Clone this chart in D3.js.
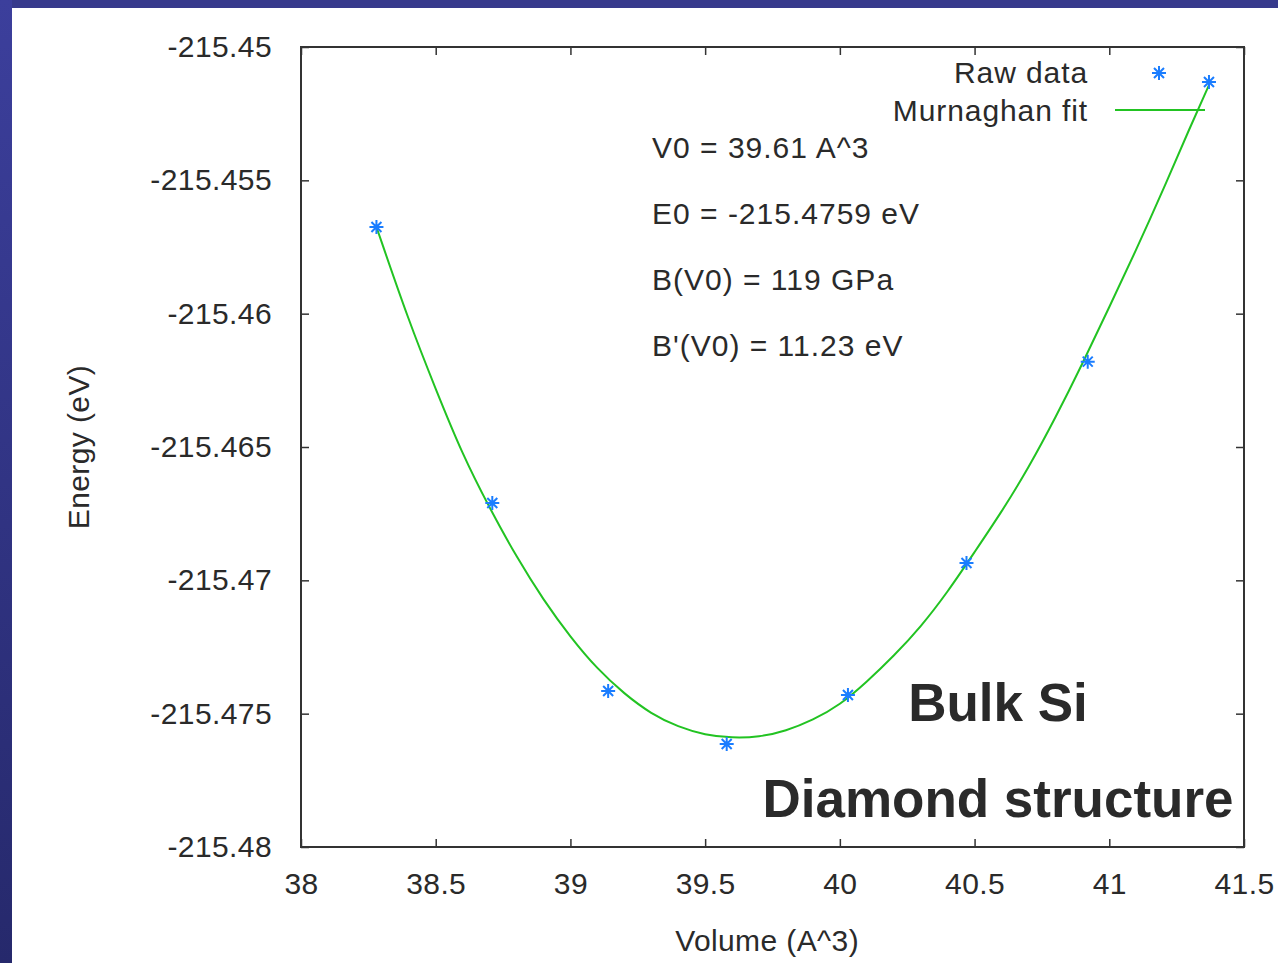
<!DOCTYPE html>
<html>
<head>
<meta charset="utf-8">
<script src="https://cdn.jsdelivr.net/npm/d3@7"></script>
<style>
  html, body { margin: 0; padding: 0; background: #fff; }
  svg { display: block; }
  text { font-family: "Liberation Sans", Arial, sans-serif; fill: #2a2a2a; }
</style>
</head>
<body>
<svg id="chart" width="1278" height="963"></svg>
<script>
// raw E(V) points
var rawVolume = [38.28, 38.71, 39.14, 39.58, 40.03, 40.47, 40.92, 41.37];
var rawEnergy = [-215.45675, -215.46710, -215.47415, -215.47614, -215.47430, -215.46935, -215.46180, -215.45131];

// fitted curve
var fitVolume = [38.28, 38.4, 38.5, 38.6, 38.7, 38.8, 38.9, 39.0, 39.1, 39.2, 39.3, 39.4, 39.5, 39.6,
  39.7, 39.8, 39.9, 40.0, 40.1, 40.2, 40.3, 40.4, 40.5, 40.6, 40.7, 40.8, 40.9, 41.0, 41.1, 41.2, 41.3, 41.37];
var fitEnergy = [-215.45675, -215.46028, -215.46283, -215.46530, -215.46729, -215.46913, -215.47074,
  -215.47213, -215.47333, -215.47426, -215.47501, -215.47550, -215.47580, -215.47591, -215.47588,
  -215.47565, -215.47524, -215.47468, -215.47381, -215.47284, -215.47175, -215.47044, -215.46894,
  -215.46744, -215.46579, -215.46391, -215.46189, -215.45975, -215.45761, -215.45536, -215.45300, -215.45143];

var xTicks = [38, 38.5, 39, 39.5, 40, 40.5, 41, 41.5];
var xTickLabels = ["38", "38.5", "39", "39.5", "40", "40.5", "41", "41.5"];
var yTicks = [-215.45, -215.455, -215.46, -215.465, -215.47, -215.475, -215.48];
var yTickLabels = ["-215.45", "-215.455", "-215.46", "-215.465", "-215.47", "-215.475", "-215.48"];

var legendLabels = ["Raw data", "Murnaghan fit"];
var fitParams = ["V0 = 39.61 A^3", "E0 = -215.4759 eV", "B(V0) = 119 GPa", "B'(V0) = 11.23 eV"];

var svg = d3.select("#chart");
var margin = {top: 47, right: 34, bottom: 116, left: 301};
var width = +svg.attr("width") - margin.left - margin.right,
  height = +svg.attr("height") - margin.top - margin.bottom;

// slide background: blue bands top and left
var grad = svg.append("defs").append("linearGradient")
  .attr("id", "side").attr("x1", 0).attr("y1", 0).attr("x2", 0).attr("y2", 1);
grad.append("stop").attr("offset", "0%").attr("stop-color", "#3c3f9c");
grad.append("stop").attr("offset", "100%").attr("stop-color", "#26296c");
svg.append("rect").attr("width", 1278).attr("height", 8).attr("fill", "#373a8c");
svg.append("rect").attr("width", 12).attr("height", 963).attr("fill", "url(#side)");

var x = d3.scaleLinear().domain([38, 41.5]).range([0, width]);
var y = d3.scaleLinear().domain([-215.48, -215.45]).range([height, 0]);

var g = svg.append("g")
  .attr("transform", "translate(" + margin.left + "," + margin.top + ")");

function fmt(ticks, labels) {
  return function(d) { return labels[ticks.indexOf(d)]; };
}

// axes with inward ticks, mirrored on top and right
var xAxis = d3.axisBottom(x).tickValues(xTicks).tickFormat(fmt(xTicks, xTickLabels))
  .tickSizeInner(-8).tickSizeOuter(0).tickPadding(26);
var yAxis = d3.axisLeft(y).tickValues(yTicks).tickFormat(fmt(yTicks, yTickLabels))
  .tickSizeInner(-8).tickSizeOuter(0).tickPadding(29);

g.append("g").attr("class", "axis")
  .attr("transform", "translate(0," + height + ")").call(xAxis);
g.append("g").attr("class", "axis").call(yAxis);
g.append("g").attr("class", "axis mirror")
  .call(d3.axisTop(x).tickValues(xTicks).tickFormat("").tickSizeInner(-8).tickSizeOuter(0));
g.append("g").attr("class", "axis mirror")
  .attr("transform", "translate(" + width + ",0)")
  .call(d3.axisRight(y).tickValues(yTicks).tickFormat("").tickSizeInner(-8).tickSizeOuter(0));

g.selectAll(".axis .domain").remove();
g.selectAll(".axis line").attr("stroke", "#333").attr("stroke-width", 1.5);
g.selectAll(".axis text")
  .style("font-family", "'Liberation Sans', Arial, sans-serif")
  .style("font-size", "30px").style("letter-spacing", "0.4px").attr("fill", "#2a2a2a");

g.append("rect")
  .attr("width", width).attr("height", height)
  .attr("fill", "none").attr("stroke", "#333").attr("stroke-width", 2);

// axis titles
svg.append("text")
  .attr("x", margin.left + x(39.73)).attr("y", 940)
  .attr("text-anchor", "middle").attr("dominant-baseline", "central")
  .style("font-size", "30px").style("letter-spacing", "0.4px")
  .text("Volume (A^3)");
svg.append("text")
  .attr("transform", "translate(78," + (margin.top + y(-215.4650)) + ") rotate(-90)")
  .attr("text-anchor", "middle").attr("dominant-baseline", "central")
  .style("font-size", "30px").style("letter-spacing", "0.4px")
  .text("Energy (eV)");

// fit curve
var fitData = fitVolume.map(function(v, i) { return {v: v, e: fitEnergy[i]}; });
var line = d3.line()
  .x(function(d) { return x(d.v); })
  .y(function(d) { return y(d.e); })
  .curve(d3.curveBasis);
g.append("path").datum(fitData)
  .attr("d", line)
  .attr("fill", "none").attr("stroke", "#22c322").attr("stroke-width", 2);

// star markers (gnuplot point type 3)
var star = "M-7,0H7M0,-7V7M-5,-5L5,5M-5,5L5,-5";
var rawData = rawVolume.map(function(v, i) { return {v: v, e: rawEnergy[i]}; });
g.selectAll("path.pt").data(rawData).enter().append("path")
  .attr("class", "pt")
  .attr("d", star)
  .attr("transform", function(d) { return "translate(" + x(d.v) + "," + y(d.e) + ")"; })
  .attr("stroke", "#1a7dff").attr("stroke-width", 2).attr("fill", "none");

// legend
var legend = svg.append("g");
legend.selectAll("text").data(legendLabels).enter().append("text")
  .attr("x", 1088).attr("y", function(d, i) { return 72 + i * 38; })
  .attr("text-anchor", "end").attr("dominant-baseline", "central")
  .style("font-size", "30px").style("letter-spacing", "0.9px")
  .text(function(d) { return d; });
legend.append("path")
  .attr("d", star).attr("transform", "translate(1159,73)")
  .attr("stroke", "#1a7dff").attr("stroke-width", 2).attr("fill", "none");
legend.append("line")
  .attr("x1", 1115).attr("x2", 1205).attr("y1", 110).attr("y2", 110)
  .attr("stroke", "#22c322").attr("stroke-width", 2);

// fit parameters
svg.selectAll("text.param").data(fitParams).enter().append("text")
  .attr("class", "param")
  .attr("x", 652).attr("y", function(d, i) { return 147 + i * 66; })
  .attr("dominant-baseline", "central")
  .style("font-size", "30px").style("letter-spacing", "1px")
  .text(function(d) { return d; });

// labels
svg.append("text")
  .attr("x", 998).attr("y", 702)
  .attr("text-anchor", "middle").attr("dominant-baseline", "central")
  .style("font-size", "53px").style("font-weight", "bold").attr("fill", "#000")
  .text("Bulk Si");
svg.append("text")
  .attr("x", 998).attr("y", 798)
  .attr("text-anchor", "middle").attr("dominant-baseline", "central")
  .style("font-size", "53px").style("font-weight", "bold").attr("fill", "#000")
  .text("Diamond structure");
</script>
</body>
</html>
